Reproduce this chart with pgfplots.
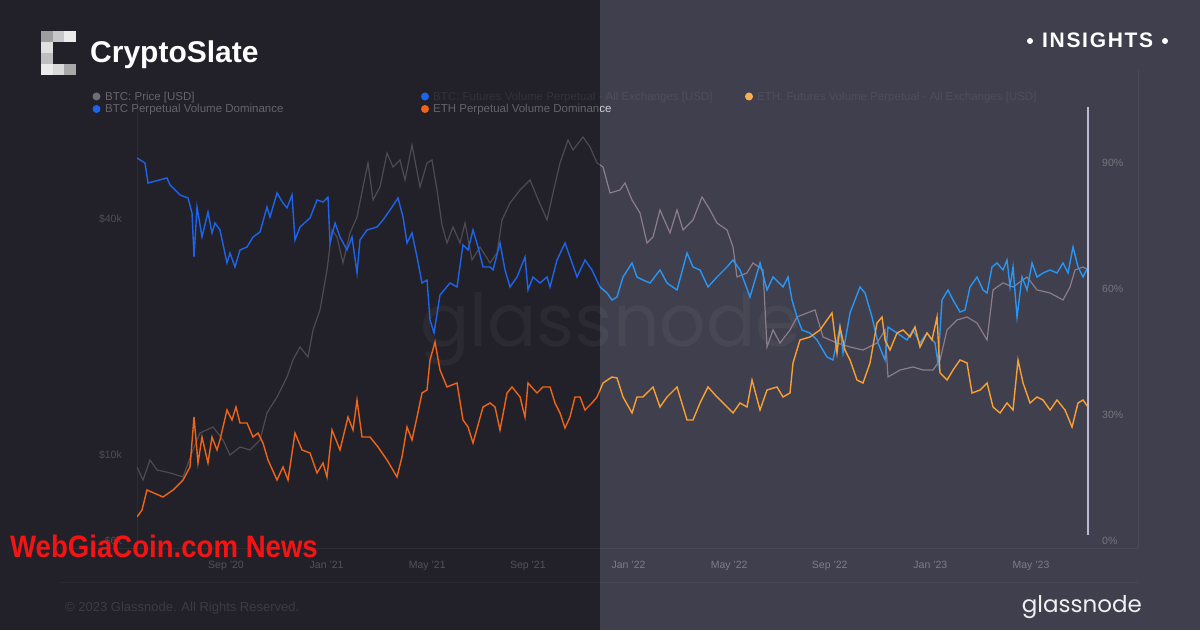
\documentclass[border=0pt]{standalone}
\usepackage{graphicx}
\usepackage{pgfplots}
\pgfplotsset{compat=1.18}
\usepackage{pgfplotstable}
\usepackage{fontspec}
\setmainfont{Liberation Sans}
\newfontfamily\poppins{Poppins}

\definecolor{bgL}{RGB}{34,33,41}
\definecolor{bgR}{RGB}{64,63,77}
\definecolor{blueL}{RGB}{30,100,235}
\definecolor{blueR}{RGB}{40,150,245}
\definecolor{orangeL}{RGB}{240,100,25}
\definecolor{orangeR}{RGB}{250,160,50}
\definecolor{grayL}{RGB}{78,74,80}
\definecolor{grayR}{RGB}{140,125,138}
\definecolor{vline}{RGB}{185,185,210}
\definecolor{wmred}{RGB}{245,20,20}

% x = months since Jan 2020, price in USD, dominance in %
\pgfplotstableread{
m price
4.462 9320
4.701 8630
4.979 9710
5.257 9160
5.774 9000
6.291 8790
6.688 10300
6.967 11380
7.483 11790
7.881 10920
8.159 10000
8.557 10480
8.954 10300
9.352 10920
9.630 12800
10.028 14060
10.425 15810
10.663 17470
10.942 18860
11.260 17780
11.459 20840
11.737 23440
12.015 29640
12.214 37500
12.413 35980
12.651 30890
12.929 36840
13.208 40470
13.446 48280
13.645 55570
13.844 44720
14.122 48280
14.400 58930
14.639 54280
14.917 56560
15.116 50290
15.394 61760
15.712 48280
15.990 55570
16.189 56560
16.388 47420
16.587 38610
16.785 34730
17.024 38160
17.302 34730
17.501 39070
17.779 31440
18.097 33930
18.494 30890
18.773 32760
18.972 39760
19.290 43940
19.687 47420
20.085 50290
20.363 45510
20.761 39760
20.999 46590
21.277 55570
21.595 63600
21.794 59980
22.192 64740
22.470 61060
22.748 55570
22.987 54280
23.265 46590
23.662 47420
23.861 49430
24.139 44720
24.457 41430
24.735 34730
24.974 35980
25.252 42170
25.650 36840
25.928 42170
26.167 37500
26.564 39760
26.922 45510
27.240 42170
27.518 39070
27.916 37500
28.154 33930
28.313 28450
28.711 29130
28.949 30890
29.347 29640
29.506 18860
29.744 20840
30.022 19310
30.420 20840
30.698 22490
31.096 23020
31.414 23440
31.732 20000
32.288 19310
32.805 18860
33.322 18530
33.878 19310
34.196 20840
34.316 15810
34.793 16470
35.310 16770
35.707 16470
36.105 16470
36.383 17470
36.662 20840
37.059 22100
37.457 22490
37.854 21710
38.252 19650
38.490 26360
38.888 27470
39.285 26830
39.842 28450
40.239 26360
40.756 25900
41.273 24850
41.551 26830
41.750 29640
42.068 30170
42.266 29640
}\btcprice

\pgfplotstableread{
m dom
4.462 91.19
4.780 90.00
4.900 85.24
5.655 86.43
5.774 84.76
6.172 82.38
6.490 81.67
6.649 78.10
6.728 67.62
6.847 79.52
7.046 72.38
7.284 78.33
7.443 73.33
7.562 75.71
7.761 74.05
8.039 66.19
8.159 68.57
8.357 65.24
8.557 69.29
8.835 70.00
9.074 72.38
9.352 73.57
9.630 79.52
9.749 77.14
10.028 82.86
10.266 80.48
10.425 79.29
10.624 82.38
10.743 71.67
10.942 74.76
11.340 76.90
11.618 81.19
11.856 80.71
12.055 81.90
12.135 70.95
12.334 75.71
12.532 72.38
12.810 69.29
13.009 72.38
13.208 63.81
13.327 71.67
13.605 74.05
14.003 74.76
14.241 76.43
14.520 78.81
14.838 81.67
15.037 77.14
15.196 70.95
15.394 73.33
15.593 67.62
15.792 61.43
15.991 62.14
16.110 52.62
16.269 49.52
16.507 58.57
16.905 61.43
17.183 60.48
17.421 70.48
17.620 69.29
17.819 74.05
18.018 70.00
18.217 65.24
18.495 65.24
18.614 64.52
18.892 70.95
19.091 64.52
19.290 60.48
19.568 62.86
19.886 67.62
20.005 59.76
20.204 62.86
20.482 61.43
20.761 62.86
20.880 60.48
21.158 66.90
21.476 70.95
21.675 67.62
21.953 62.86
22.271 66.90
22.549 64.52
22.867 60.48
23.146 59.05
23.344 57.38
23.543 58.10
23.782 62.86
24.139 66.19
24.338 62.86
24.576 62.14
24.855 61.43
25.252 64.52
25.531 61.43
25.928 59.76
26.326 68.57
26.564 65.24
26.843 64.52
27.161 60.48
27.518 62.86
27.916 65.24
28.154 66.90
28.433 64.52
28.830 58.10
29.228 66.19
29.506 59.76
29.744 62.86
30.142 60.48
30.341 62.86
30.499 57.38
30.698 53.33
30.897 50.24
31.215 49.52
31.493 47.86
31.891 43.81
32.129 43.10
32.407 50.95
32.527 44.76
32.805 54.29
33.202 60.48
33.401 59.05
33.680 53.33
33.918 47.14
34.196 43.10
34.316 50.95
34.673 49.52
35.071 47.86
35.310 50.24
35.588 47.14
35.866 49.52
36.184 47.14
36.303 42.38
36.462 57.38
36.701 59.76
36.899 57.38
37.178 54.52
37.377 55.00
37.576 60.48
37.854 62.86
38.093 59.76
38.252 59.05
38.451 65.24
38.649 66.19
38.888 64.52
39.047 66.90
39.166 60.48
39.285 65.24
39.444 53.33
39.643 62.86
39.842 59.76
40.041 66.19
40.239 62.86
40.478 63.81
40.756 64.52
41.034 63.81
41.273 66.19
41.472 63.81
41.670 70.00
41.869 65.24
42.068 62.86
42.266 65.24
}\btcdom

\pgfplotstableread{
m dom
4.462 5.71
4.661 7.38
4.860 12.14
5.496 10.48
5.894 12.14
6.291 14.52
6.569 17.62
6.728 29.52
6.887 18.57
7.046 24.76
7.284 18.57
7.443 24.76
7.642 21.67
7.761 24.05
8.039 31.19
8.238 28.81
8.397 31.90
8.557 28.10
8.835 28.10
9.074 24.76
9.273 25.71
9.471 23.33
9.670 19.29
10.028 14.52
10.266 17.62
10.465 14.52
10.743 25.71
11.022 21.67
11.340 20.95
11.618 16.19
11.856 18.57
12.015 15.24
12.214 26.43
12.532 21.67
12.850 29.52
13.049 26.43
13.208 33.57
13.407 24.76
13.725 24.76
14.043 22.38
14.400 19.29
14.798 15.24
14.997 20.00
15.196 27.14
15.394 24.05
15.593 29.52
15.792 35.24
15.991 35.95
16.110 43.10
16.309 47.38
16.507 40.71
16.785 36.67
17.183 37.62
17.421 28.81
17.620 27.14
17.819 23.33
18.217 31.90
18.495 32.86
18.694 31.90
18.892 26.43
19.171 35.24
19.370 36.67
19.688 34.29
19.886 29.52
20.005 37.62
20.363 35.24
20.601 36.67
20.880 36.67
21.078 32.86
21.277 30.48
21.476 26.90
21.675 29.52
21.874 34.29
22.073 34.29
22.271 31.19
22.549 32.86
22.748 34.29
22.987 37.62
23.344 39.05
23.543 38.81
23.782 34.29
24.139 30.48
24.338 34.29
24.576 34.29
24.974 36.67
25.252 31.90
25.531 34.29
25.928 36.67
26.326 28.81
26.564 28.81
26.843 32.86
27.161 36.67
27.518 34.29
27.916 31.90
28.154 30.48
28.433 32.86
28.711 31.90
28.910 38.33
29.228 31.19
29.506 35.95
29.903 36.67
30.142 34.29
30.420 35.24
30.539 42.38
30.817 47.86
31.215 48.57
31.612 50.24
31.891 52.62
32.089 54.29
32.288 44.76
32.407 50.95
32.606 45.48
32.805 43.10
33.083 38.33
33.322 37.62
33.600 42.38
33.878 51.90
34.077 53.33
34.196 47.86
34.395 45.48
34.673 49.52
34.912 50.24
35.190 48.57
35.389 50.95
35.588 46.19
35.866 49.52
36.065 47.86
36.264 53.33
36.383 40.00
36.662 38.33
36.900 40.71
37.178 43.10
37.457 42.38
37.655 35.24
37.973 35.95
38.252 37.62
38.490 31.90
38.768 30.48
39.047 32.86
39.285 31.19
39.484 43.10
39.683 37.62
39.961 32.86
40.239 34.29
40.478 33.57
40.756 31.19
41.034 33.57
41.352 31.19
41.631 27.14
41.869 32.86
42.068 33.57
42.266 31.90
}\ethdom

\pgfplotsset{
  panel/.style={
    scale only axis, anchor=south west, height=434pt,
    axis line style={draw=none}, major tick length=0pt,
    tick style={draw=none}, clip=true,
    xticklabel style={font=\fontsize{10.5}{12}\selectfont, text=white, anchor=base, inner sep=0pt, yshift=-27pt},
    yticklabel style={font=\fontsize{10.5}{12}\selectfont, text=white, inner sep=0pt},
  },
  leftpanel/.style={panel, at={(137pt,89pt)}, width=463pt, xmin=4.462, xmax=22.867},
  rightpanel/.style={panel, at={(600pt,89pt)}, width=488pt, xmin=22.867, xmax=42.266},
}

\begin{document}
\begin{tikzpicture}[x=1pt,y=1pt]
\fill[bgL] (0,0) rectangle (600,630);
\fill[bgR] (600,0) rectangle (1200,630);
\useasboundingbox (0,0) rectangle (1200,630);

% faint panel frame
\draw[white, opacity=0.05, line width=0.8] (137,530) -- (137,82);
\draw[white, opacity=0.05, line width=0.8] (1138,560) -- (1138,82);
\draw[white, opacity=0.05, line width=0.8] (60,82) -- (1138,82);
\draw[white, opacity=0.04, line width=0.8] (60,48) -- (1138,48);

% watermark
\node[anchor=base west, inner sep=0pt, font=\poppins\fontsize{73}{80}\selectfont, text=white, text opacity=0.045] at (420,283) {glassnode};

% header
\fill[white!62!black] (41,599) rectangle (52.7,588);
\fill[white!78!black] (52.7,599) rectangle (64.4,588);
\fill[white!92!black] (64.4,599) rectangle (76,588);
\fill[white!88!black] (41,588) rectangle (52.7,577);
\fill[white!75!black] (41,577) rectangle (52.7,566);
\fill[white!92!black] (41,566) rectangle (52.7,555);
\fill[white!85!black] (52.7,566) rectangle (64.4,555);
\fill[white!66!black] (64.4,566) rectangle (76,555);
\node[anchor=base west, inner sep=0pt, text=white, font=\bfseries\fontsize{30}{34}\selectfont] at (90,567) {CryptoSlate};
\fill[white] (1030,589) circle (3);
\fill[white] (1165,589) circle (3);
\node[anchor=base west, inner sep=0pt, text=white, font=\bfseries\fontsize{21}{24}\selectfont\addfontfeature{LetterSpace=8}] at (1042,582) {INSIGHTS};

% legend
\fill[grayL!80!white] (96.5,533.5) circle (4);
\node[anchor=base west, inner sep=0pt, text=white, text opacity=0.3, font=\fontsize{11.5}{13}\selectfont] at (105,529.5) {BTC: Price [USD]};
\fill[blueL] (425,533.5) circle (4);
\node[anchor=base west, inner sep=0pt, text=white, text opacity=0.08, font=\fontsize{11.5}{13}\selectfont] at (433,529.5) {BTC: Futures Volume Perpetual - All Exchanges [USD]};
\fill[orangeR!85!white] (749,533.5) circle (4);
\node[anchor=base west, inner sep=0pt, text=white, text opacity=0.08, font=\fontsize{11.5}{13}\selectfont] at (757,529.5) {ETH: Futures Volume Perpetual - All Exchanges [USD]};
\fill[blueL] (96.5,521) circle (4);
\node[anchor=base west, inner sep=0pt, text=white, text opacity=0.3, font=\fontsize{11.5}{13}\selectfont] at (105,517) {BTC Perpetual Volume Dominance};
\fill[orangeL] (425,521) circle (4);
\begin{scope}
\clip (0,500) rectangle (600,545);
\node[anchor=base west, inner sep=0pt, text=white, text opacity=0.3, font=\fontsize{11.5}{13}\selectfont] at (433,517) {ETH Perpetual Volume Dominance};
\end{scope}
\begin{scope}
\clip (600,500) rectangle (700,545);
\node[anchor=base west, inner sep=0pt, text=white, text opacity=0.75, font=\fontsize{11.5}{13}\selectfont] at (433,517) {ETH Perpetual Volume Dominance};
\end{scope}

% left half: price
\begin{axis}[leftpanel, ymode=log, ymin=6034, ymax=77220, xtick=\empty,
  ytick={6034,10000,40000}, yticklabels={\$6k,\$10k,\$40k},
  yticklabel style={anchor=east, xshift=-15pt, text opacity=0.2}]
\addplot[grayL, line width=1.2pt] table[x=m, y=price] {\btcprice};
\end{axis}
% left half: dominance
\begin{axis}[leftpanel, ymin=0, ymax=103.33, ytick=\empty, xtick={8,12,16,20},
  xticklabels={Sep '20, Jan '21, May '21, Sep '21}, xticklabel style={text opacity=0.22}]
\addplot[blueL, line width=1.4pt] table[x=m, y=dom] {\btcdom};
\addplot[orangeL, line width=1.4pt] table[x=m, y=dom] {\ethdom};
\end{axis}
% right half: price
\begin{axis}[rightpanel, ymode=log, ymin=6034, ymax=77220, xtick=\empty, ytick=\empty]
\addplot[grayR, line width=1.2pt] table[x=m, y=price] {\btcprice};
\end{axis}
% right half: dominance
\begin{axis}[rightpanel, ymin=0, ymax=103.33, ytick={0,30,60,90}, yticklabels={0\%,30\%,60\%,90\%},
  yticklabel pos=right, yticklabel style={anchor=west, xshift=14pt, text opacity=0.28},
  xtick={24,28,32,36,40}, xticklabels={Jan '22, May '22, Sep '22, Jan '23, May '23},
  xticklabel style={text opacity=0.32}]
\addplot[blueR, line width=1.4pt] table[x=m, y=dom] {\btcdom};
\addplot[orangeR, line width=1.4pt] table[x=m, y=dom] {\ethdom};
\end{axis}

\draw[vline, line width=1.5pt] (1088,523) -- (1088,95);

% footer
\node[anchor=base west, inner sep=0pt, text=white, text opacity=0.12, font=\fontsize{13}{15}\selectfont] at (65,19) {\textcopyright{} 2023 Glassnode. All Rights Reserved.};
\node[anchor=base east, inner sep=0pt, text=white!92!bgR, font=\poppins\fontsize{23}{27}\selectfont] at (1142,18) {glassnode};

% overlay watermark
\node[anchor=base west, inner sep=0pt, text=wmred, font=\bfseries\fontsize{31}{35}\selectfont] at (10,72.5) {\scalebox{0.89}[1]{WebGiaCoin.com News}};
\end{tikzpicture}
\end{document}
